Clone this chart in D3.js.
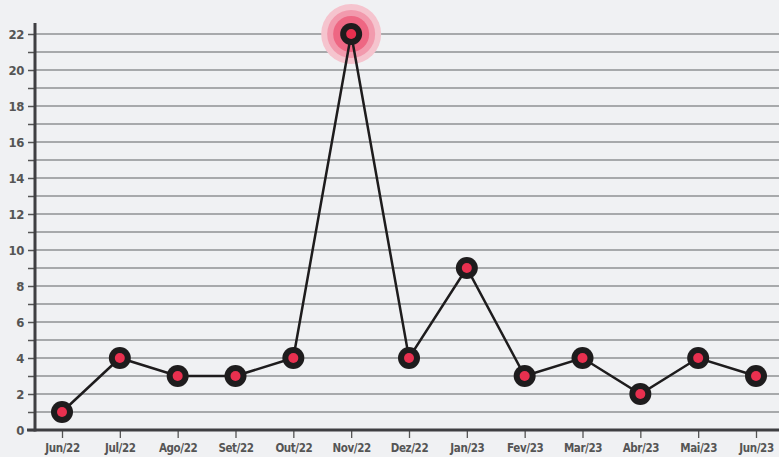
<!DOCTYPE html>
<html>
<head>
<meta charset="utf-8">
<script src="https://cdn.jsdelivr.net/npm/d3@7"></script>
<style>
  html, body { margin: 0; padding: 0; background: #f0f1f3; }
  svg { display: block; }
  .lbl { font-family: "Liberation Sans Narrow", "DejaVu Sans Condensed", "Roboto", sans-serif; font-weight: bold; fill: #555; letter-spacing: -0.4px; }
</style>
</head>
<body>
<svg id="chart"></svg>
<script>
const months = ['Jun/22', 'Jul/22', 'Ago/22', 'Set/22', 'Out/22', 'Nov/22', 'Dez/22', 'Jan/23', 'Fev/23', 'Mar/23', 'Abr/23', 'Mai/23', 'Jun/23']
const counts = [1, 4, 3, 3, 4, 22, 4, 9, 3, 4, 2, 4, 3]
const yTicks = [0, 2, 4, 6, 8, 10, 12, 14, 16, 18, 20, 22]
const highlight = 'Nov/22'

const W = 779
const H = 457
const margin = { top: 23, left: 35, right: 0, bottom: 27 }

const svg = d3.select('#chart').attr('width', W).attr('height', H)

const x = d3.scalePoint()
	.domain(months)
	.range([62, 756])

const y = d3.scaleLinear()
	.domain([0, 22])
	.range([H - margin.bottom, 34])

// grid lines, one per unit
svg.append('g')
	.selectAll('line')
	.data(d3.range(1, 23))
	.enter()
	.append('line')
	.attr('x1', margin.left)
	.attr('x2', W)
	.attr('y1', d => y(d))
	.attr('y2', d => y(d))
	.attr('stroke', '#8f9093')
	.attr('stroke-width', 1.3)

// y axis
const yAxis = svg.append('g')
	.attr('transform', `translate(${margin.left},0)`)
	.call(d3.axisLeft(y).tickValues(d3.range(0, 23)).tickSize(7).tickFormat(d => yTicks.includes(d) ? d : ''))
yAxis.select('.domain').remove()
yAxis.selectAll('.tick line').attr('stroke', '#555').attr('stroke-width', 1.5)
yAxis.selectAll('.tick text').attr('class', 'lbl').attr('x', -11).style('font-size', '13px')

svg.append('line')
	.attr('x1', margin.left).attr('x2', margin.left)
	.attr('y1', margin.top).attr('y2', y(0) + 1.5)
	.attr('stroke', '#3f3f42').attr('stroke-width', 3)

// x axis
const xAxis = svg.append('g')
	.attr('transform', `translate(0,${y(0)})`)
	.call(d3.axisBottom(x).tickSize(8).tickPadding(6))
xAxis.select('.domain').remove()
xAxis.selectAll('.tick line').attr('stroke', '#555').attr('stroke-width', 1.3)
xAxis.selectAll('.tick text').attr('class', 'lbl').style('font-size', '11.5px')

svg.append('line')
	.attr('x1', 27).attr('x2', W)
	.attr('y1', y(0)).attr('y2', y(0))
	.attr('stroke', '#3f3f42').attr('stroke-width', 3)

const data = months.map((m, i) => ({ month: m, value: counts[i] }))

// highlight halo
const hi = data.find(d => d.month === highlight)
const halo = [{ r: 30, c: '#f5c4ce' }, { r: 24, c: '#f29aad' }, { r: 18, c: '#ee6783' }]
svg.append('g')
	.selectAll('circle')
	.data(halo)
	.enter()
	.append('circle')
	.attr('cx', x(hi.month))
	.attr('cy', y(hi.value))
	.attr('r', d => d.r)
	.attr('fill', d => d.c)

// line
const line = d3.line()
	.x(d => x(d.month))
	.y(d => y(d.value))

svg.append('path')
	.datum(data)
	.attr('d', line)
	.attr('fill', 'none')
	.attr('stroke', '#1e1c1d')
	.attr('stroke-width', 2.5)

// points
const pts = svg.append('g')
	.selectAll('g')
	.data(data)
	.enter()
	.append('g')
	.attr('transform', d => `translate(${x(d.month)},${y(d.value)})`)
pts.append('circle').attr('r', 11).attr('fill', '#1e1c1d')
pts.append('circle').attr('r', 5).attr('fill', '#e8304f')
</script>
</body>
</html>
